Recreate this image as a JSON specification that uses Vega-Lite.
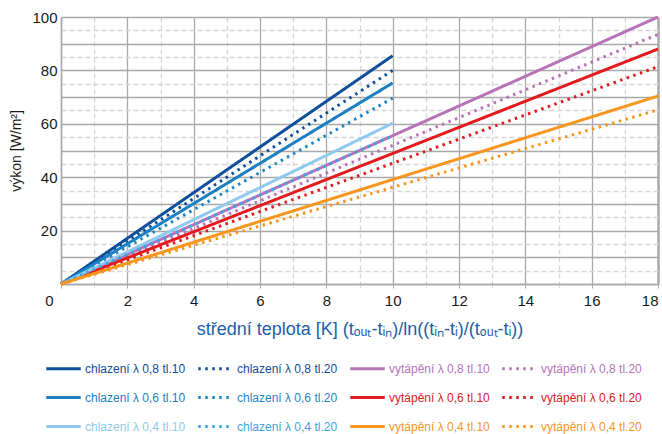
{
  "$schema": "https://vega.github.io/schema/vega-lite/v6.json",
  "width": 597,
  "height": 267,
  "autosize": "none",
  "padding": {"left": 61, "top": 17, "right": 4, "bottom": 150},
  "config": {
    "view": {"stroke": null},
    "font": "Liberation Sans Narrow, Liberation Sans, sans-serif"
  },
  "data": {
    "values": [
      {"s": "chlazení λ 0,8 tl.10", "x": 0, "y": 0}, {"s": "chlazení λ 0,8 tl.10", "x": 10, "y": 85.5},
      {"s": "chlazení λ 0,8 tl.20", "x": 0, "y": 0}, {"s": "chlazení λ 0,8 tl.20", "x": 10, "y": 80},
      {"s": "vytápění λ 0,8 tl.10", "x": 0, "y": 0}, {"s": "vytápění λ 0,8 tl.10", "x": 18, "y": 100},
      {"s": "vytápění λ 0,8 tl.20", "x": 0, "y": 0}, {"s": "vytápění λ 0,8 tl.20", "x": 18, "y": 93.5},
      {"s": "chlazení λ 0,6 tl.10", "x": 0, "y": 0}, {"s": "chlazení λ 0,6 tl.10", "x": 10, "y": 75.3},
      {"s": "chlazení λ 0,6 tl.20", "x": 0, "y": 0}, {"s": "chlazení λ 0,6 tl.20", "x": 10, "y": 69.6},
      {"s": "vytápění λ 0,6 tl.10", "x": 0, "y": 0}, {"s": "vytápění λ 0,6 tl.10", "x": 18, "y": 88},
      {"s": "vytápění λ 0,6 tl.20", "x": 0, "y": 0}, {"s": "vytápění λ 0,6 tl.20", "x": 18, "y": 81.4},
      {"s": "chlazení λ 0,4 tl.10", "x": 0, "y": 0}, {"s": "chlazení λ 0,4 tl.10", "x": 10, "y": 60.2},
      {"s": "chlazení λ 0,4 tl.20", "x": 0, "y": 0}, {"s": "chlazení λ 0,4 tl.20", "x": 10, "y": 55.5},
      {"s": "vytápění λ 0,4 tl.10", "x": 0, "y": 0}, {"s": "vytápění λ 0,4 tl.10", "x": 18, "y": 70.4},
      {"s": "vytápění λ 0,4 tl.20", "x": 0, "y": 0}, {"s": "vytápění λ 0,4 tl.20", "x": 18, "y": 65.2}
    ]
  },
  "mark": {"type": "line", "strokeWidth": 3, "strokeCap": "butt"},
  "encoding": {
    "x": {
      "field": "x", "type": "quantitative",
      "scale": {"domain": [0, 18], "nice": false, "zero": true},
      "axis": {
        "title": "střední teplota [K] (tₒᵤₜ-tᵢₙ)/ln((tᵢₙ-tᵢ)/(tₒᵤₜ-tᵢ))",
        "titleColor": "#1d5fa8", "titleFontSize": 18, "titleFontWeight": "normal", "titlePadding": 12,
        "values": [0,0.5,1,1.5,2,2.5,3,3.5,4,4.5,5,5.5,6,6.5,7,7.5,8,8.5,9,9.5,10,10.5,11,11.5,12,12.5,13,13.5,14,14.5,15,15.5,16,16.5,17,17.5,18],
        "format": "d",
        "labelExpr": "datum.value % 2 === 0 ? datum.label : ''",
        "labelFontSize": 15, "labelColor": "#1a1a1a", "labelPadding": 5,
        "labelOverlap": false, "labelFlush": false,
        "labelAlign": {"condition": {"test": "datum.value === 0 || datum.value === 18", "value": "right"}, "value": "center"},
        "labelOffset": {"condition": {"test": "datum.value === 0", "value": -8}, "value": 0},
        "grid": true,
        "gridColor": {"condition": {"test": "datum.value % 2 === 0", "value": "#a9a9a9"}, "value": "#d6d6d6"},
        "gridDash": {"condition": {"test": "datum.value % 2 === 0", "value": []}, "value": [5, 3]},
        "gridWidth": {"condition": {"test": "datum.value === 18", "value": 2.5}, "value": 1.3},
        "tickColor": {"condition": {"test": "datum.value % 2 === 0", "value": "#a9a9a9"}, "value": "#d6d6d6"},
        "tickSize": 4,
        "domainColor": "#a9a9a9", "domainWidth": 1.5
      }
    },
    "y": {
      "field": "y", "type": "quantitative",
      "scale": {"domain": [0, 100], "nice": false},
      "axis": {
        "title": "výkon [W/m²]",
        "titleColor": "#1a1a1a", "titleFontSize": 14, "titleFontWeight": "normal", "titlePadding": 8,
        "values": [0,5,10,15,20,25,30,35,40,45,50,55,60,65,70,75,80,85,90,95,100],
        "format": "d",
        "labelExpr": "(datum.value % 20 === 0 && datum.value > 0) ? datum.label : ''",
        "labelFontSize": 15, "labelColor": "#1a1a1a", "labelPadding": 4,
        "labelOverlap": false, "labelFlush": false,
        "grid": true,
        "gridColor": {"condition": {"test": "datum.value % 10 === 0", "value": "#a9a9a9"}, "value": "#d6d6d6"},
        "gridDash": {"condition": {"test": "datum.value % 10 === 0", "value": []}, "value": [5, 3]},
        "gridWidth": 1.3,
        "ticks": false,
        "domainColor": "#a9a9a9", "domainWidth": 1.5
      }
    },
    "color": {
      "field": "s", "type": "nominal",
      "scale": {
        "domain": ["chlazení λ 0,8 tl.10", "chlazení λ 0,8 tl.20", "vytápění λ 0,8 tl.10", "vytápění λ 0,8 tl.20",
                   "chlazení λ 0,6 tl.10", "chlazení λ 0,6 tl.20", "vytápění λ 0,6 tl.10", "vytápění λ 0,6 tl.20",
                   "chlazení λ 0,4 tl.10", "chlazení λ 0,4 tl.20", "vytápění λ 0,4 tl.10", "vytápění λ 0,4 tl.20"],
        "range": ["#0e4e9b", "#0e4e9b", "#b873b8", "#b873b8",
                  "#1b7fc3", "#1b86c9", "#e31b1f", "#e31b1f",
                  "#90c9ef", "#38a6e2", "#f7951d", "#f7951d"]
      },
      "legend": {
        "orient": "none", "legendX": -14, "legendY": 335,
        "title": null, "columns": 4, "direction": "horizontal",
        "symbolType": "M-1.15,0H1.15", "symbolSize": 900, "symbolStrokeWidth": 3,
        "labelFontSize": 12, "labelOffset": 5, "labelLimit": 200,
        "rowPadding": 6, "columnPadding": 6,
        "encode": {"labels": {"update": {"fill": {"scale": "color", "field": "value"}}}}
      }
    },
    "strokeDash": {
      "field": "s", "type": "nominal",
      "scale": {
        "domain": ["chlazení λ 0,8 tl.10", "chlazení λ 0,8 tl.20", "vytápění λ 0,8 tl.10", "vytápění λ 0,8 tl.20",
                   "chlazení λ 0,6 tl.10", "chlazení λ 0,6 tl.20", "vytápění λ 0,6 tl.10", "vytápění λ 0,6 tl.20",
                   "chlazení λ 0,4 tl.10", "chlazení λ 0,4 tl.20", "vytápění λ 0,4 tl.10", "vytápění λ 0,4 tl.20"],
        "range": [[1, 0], [2.5, 4.5], [1, 0], [2.5, 4.5],
                  [1, 0], [2.5, 4.5], [1, 0], [2.5, 4.5],
                  [1, 0], [2.5, 4.5], [1, 0], [2.5, 4.5]]
      },
      "legend": {
        "orient": "none", "legendX": -14, "legendY": 335,
        "title": null, "columns": 4, "direction": "horizontal",
        "symbolType": "M-1.15,0H1.15", "symbolSize": 900, "symbolStrokeWidth": 3,
        "labelFontSize": 12, "labelOffset": 5, "labelLimit": 200,
        "rowPadding": 6, "columnPadding": 6,
        "encode": {"labels": {"update": {"fill": {"scale": "color", "field": "value"}}}}
      }
    }
  }
}
